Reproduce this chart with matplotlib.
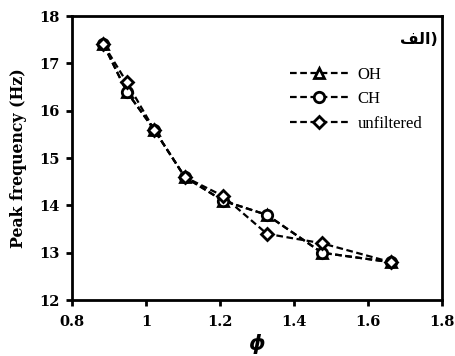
import matplotlib
matplotlib.use("Agg")
import matplotlib.pyplot as plt

phi = [0.885, 0.948, 1.022, 1.105, 1.208, 1.327, 1.476, 1.663]
oh = [17.4, 16.4, 15.6, 14.6, 14.1, 13.8, 13.0, 12.8]
ch = [17.4, 16.4, 15.6, 14.6, 14.1, 13.8, 13.0, 12.8]
unfiltered = [17.4, 16.6, 15.6, 14.6, 14.2, 13.4, 13.2, 12.8]

xticks = [0.8, 1.0, 1.2, 1.4, 1.6, 1.8]
xticklabels = ["0.8", "1", "1.2", "1.4", "1.6", "1.8"]
yticks = [12, 13, 14, 15, 16, 17, 18]

fig = plt.figure(figsize=(4.56, 3.56), dpi=100)
ax = fig.add_axes([0.158, 0.157, 0.811, 0.798])

common = dict(color="black", linestyle=(0, (3, 1.6)), linewidth=1.6,
              markerfacecolor="white", markeredgecolor="black",
              markeredgewidth=2.0, markersize=7.5)
ax.plot(phi, oh, marker="^", label="OH", **common)
ax.plot(phi, ch, marker="o", label="CH", **common)
ax.plot(phi, unfiltered, marker="D", label="unfiltered",
        **{**common, "markersize": 5.8})

ax.set_xlim(0.8, 1.8)
ax.set_ylim(12, 18)
ax.set_xticks(xticks)
ax.set_xticklabels(xticklabels)
ax.set_yticks(yticks)

for s in ax.spines.values():
    s.set_linewidth(2.0)
    s.set_color("black")
ax.tick_params(direction="out", length=4, width=2)
ax.tick_params(axis="x", pad=7)
ax.tick_params(axis="y", pad=5)
for lab in ax.get_xticklabels() + ax.get_yticklabels():
    lab.set_fontfamily("DejaVu Serif")
    lab.set_fontweight("bold")
    lab.set_fontsize(10.5)

ax.set_xlabel("$\\boldsymbol{\\phi}$", fontsize=15, labelpad=1)
ax.set_ylabel("Peak frequency (Hz)", fontfamily="DejaVu Serif",
              fontweight="bold", fontsize=11.3, labelpad=9)

leg = ax.legend(loc="upper left", bbox_to_anchor=(0.589, 0.822), frameon=False,
                prop={"family": "Liberation Serif", "size": 12},
                handlelength=3.5, handletextpad=0.55, labelspacing=0.52,
                borderaxespad=0, borderpad=0)

ax.text(0.989, 0.944, "\uFED2\uFEDF\uFE8D)", transform=ax.transAxes,
        ha="right", va="top", fontfamily="DejaVu Sans", fontweight="bold",
        fontsize=11.5)

fig.savefig("out.png", dpi=100)
